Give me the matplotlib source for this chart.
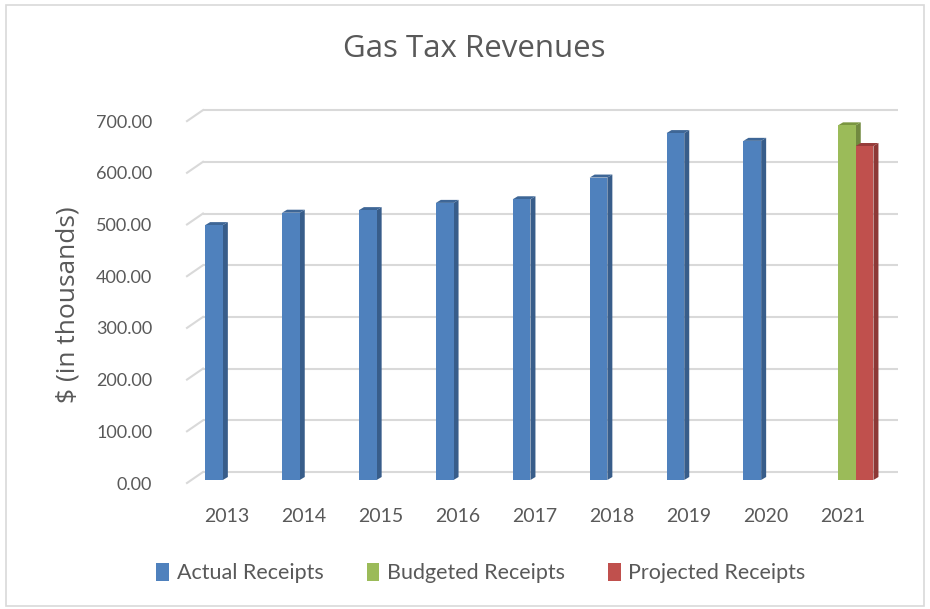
import matplotlib
matplotlib.use("Agg")
import matplotlib.pyplot as plt
from matplotlib.patches import Polygon, Patch, Rectangle
from matplotlib.transforms import ScaledTranslation
import numpy as np

# ---- data ----
years = ["2013", "2014", "2015", "2016", "2017", "2018", "2019", "2020", "2021"]
actual = [493, 517, 522, 536, 543, 585, 671, 656, np.nan]
budgeted = [np.nan] * 8 + [686]
projected = [np.nan] * 8 + [646]
series_names = ["Actual Receipts", "Budgeted Receipts", "Projected Receipts"]
yticks = [0, 100, 200, 300, 400, 500, 600, 700]

front_cols = ["#4f81bd", "#9bbb59", "#c0504d"]
side_cols = ["#385d8a", "#71893f", "#8c3836"]
top_cols = ["#3e6696", "#7a9640", "#963c3a"]
txt = "#595959"
grid_col = "#d9d9d9"

W, H, DPI = 930, 609, 100
fig = plt.figure(figsize=(W / DPI, H / DPI), dpi=DPI)
fig.patch.set_facecolor("white")

# axes placement (pixels)
ax_l, ax_r, ax_t, ax_b = 187, 898, 110, 483
ax = fig.add_axes([ax_l / W, 1 - ax_b / H, (ax_r - ax_l) / W, (ax_b - ax_t) / H])
ax.set_facecolor("none")

cat_px = 76.9          # pixels per category
px_per_unit = 0.517    # pixels per value unit
zero_px = 480          # pixel row of value 0 at bar front
cat0_px = 231.7
xmin = -(cat0_px - ax_l) / cat_px
xmax = xmin + (ax_r - ax_l) / cat_px
ymin = -(ax_b - zero_px) / px_per_unit
ymax = (zero_px - ax_t) / px_per_unit
ax.set_xlim(xmin, xmax)
ax.set_ylim(ymin, ymax)

# back wall gridlines + left diagonal
back_off = 8 / px_per_unit
front_off = -3 / px_per_unit
depth_x = 16 / cat_px
for v in yticks:
    ax.plot([xmin + depth_x, xmax], [v + back_off, v + back_off], color=grid_col, lw=1.5, zorder=1,
            clip_on=False, solid_capstyle="butt")
    ax.plot([xmin, xmin + depth_x], [v + front_off, v + back_off], color=grid_col, lw=1.5, zorder=1,
            clip_on=False)

# bars
bw = 17.7 / cat_px
dx = 5 / cat_px
dy = 3 / px_per_unit
x = np.arange(len(years))
for k, vals in enumerate([actual, budgeted, projected]):
    offset = (k - 1) * bw
    for xi, h in zip(x, vals):
        if h is None or np.isnan(h):
            continue
        x0 = xi + offset - bw / 2
        x1 = x0 + bw
        ax.add_patch(Polygon([(x1, 0), (x1 + dx, dy), (x1 + dx, h + dy), (x1, h)],
                             closed=True, facecolor=side_cols[k], edgecolor="none", zorder=3))
        ax.add_patch(Polygon([(x0, h), (x0 + dx, h + dy), (x1 + dx, h + dy), (x1, h)],
                             closed=True, facecolor=top_cols[k], edgecolor="none", zorder=3))
    ax.bar(x + offset, vals, width=bw, color=front_cols[k], edgecolor="none", zorder=4)

# axes styling
for s in ax.spines.values():
    s.set_visible(False)
ax.set_yticks(yticks)
ax.set_yticklabels([f"{v:.2f}" for v in yticks])
ax.set_xticks(x - 0.06)
ax.set_xticklabels(years)
ax.tick_params(axis="both", length=0, colors=txt)
ax.tick_params(axis="y", pad=25, labelsize=13)
ax.tick_params(axis="x", pad=18, labelsize=14)
for lab in ax.get_yticklabels():
    lab.set_fontfamily(["Lato", "DejaVu Sans"])
    lab.set_transform(lab.get_transform() + ScaledTranslation(0, -3 / DPI, fig.dpi_scale_trans))
for lab in ax.get_xticklabels():
    lab.set_fontfamily(["Lato", "DejaVu Sans"])

fig.text(68 / W, 1 - 305 / H, "$ (in thousands)", rotation=90, ha="center", va="center",
         fontsize=19, color=txt, family=["Open Sans", "DejaVu Sans"])
fig.text(474 / W, 1 - 49 / H, "Gas Tax Revenues", ha="center", va="center",
         fontsize=22.5, color=txt, family=["Open Sans", "DejaVu Sans"])

handles = [Patch(facecolor=c, edgecolor="none") for c in front_cols]
leg = fig.legend(handles, series_names, loc="center", bbox_to_anchor=(481 / W, 1 - 573 / H),
                 ncol=3, frameon=False, handlelength=0.6, handleheight=0.9,
                 handletextpad=0.35, columnspacing=2.0, labelcolor=txt,
                 prop={"family": ["Lato", "DejaVu Sans"], "size": 15.5})

# chart border
fig.patches.append(Rectangle((6 / W, 1 - 606 / H), 918 / W, 601 / H, transform=fig.transFigure,
                             fill=False, edgecolor="#d9d9d9", lw=1.2))

fig.savefig("out.png", dpi=DPI, facecolor="white")
